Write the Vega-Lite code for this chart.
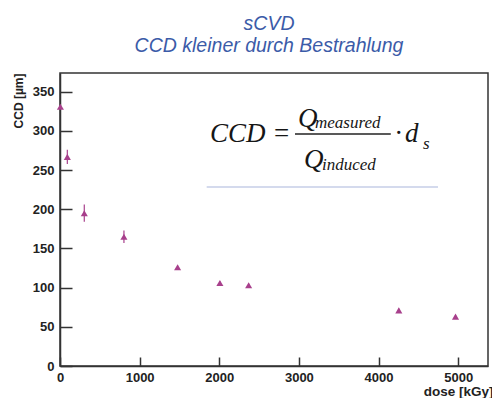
{
  "$schema": "https://vega.github.io/schema/vega-lite/v6.json",
  "width": 428,
  "height": 293,
  "autosize": {"type": "none"},
  "padding": {"left": 60, "top": 73, "right": 4, "bottom": 32},
  "background": "white",
  "title": {
    "text": ["sCVD", "CCD kleiner durch Bestrahlung"],
    "font": "Liberation Sans",
    "fontStyle": "italic",
    "fontWeight": "normal",
    "fontSize": 19.5,
    "color": "#3b5ba8",
    "lineHeight": 22.6,
    "anchor": "middle",
    "dx": -5,
    "dy": 23,
    "offset": 20,
    "baseline": "bottom"
  },
  "config": {
    "view": {"stroke": "#333333", "strokeWidth": 1.5}
  },
  "data": {"values": [
    {"dose": 5, "ccd": 331, "lo": 329, "hi": 333},
    {"dose": 92, "ccd": 267, "lo": 258, "hi": 276},
    {"dose": 305, "ccd": 195, "lo": 184, "hi": 206},
    {"dose": 803, "ccd": 165, "lo": 157, "hi": 173},
    {"dose": 1477, "ccd": 126, "lo": 124, "hi": 128},
    {"dose": 2008, "ccd": 106, "lo": 104, "hi": 108},
    {"dose": 2369, "ccd": 103, "lo": 101, "hi": 105},
    {"dose": 4255, "ccd": 71, "lo": 69, "hi": 73},
    {"dose": 4967, "ccd": 63, "lo": 61, "hi": 65}
  ]},
  "encoding": {
    "x": {"field": "dose", "type": "quantitative", "scale": {"domain": [0, 5375], "nice": false, "zero": false}, "axis": null},
    "y": {"field": "ccd", "type": "quantitative", "scale": {"domain": [0, 374], "nice": false, "zero": false}, "axis": null}
  },
  "resolve": {"axis": {"x": "independent", "y": "independent"}},
  "layer": [
    {
      "mark": {"type": "point", "shape": "triangle-up", "filled": true, "size": 50, "color": "#a8408c", "opacity": 1},
      "encoding": {
        "x": {"field": "dose", "type": "quantitative", "scale": {"domain": [0, 5375], "nice": false, "zero": false},
          "axis": {"orient": "bottom", "values": [0, 1000, 2000, 3000, 4000, 5000], "format": "d", "grid": false, "ticks": false, "labelPadding": 5, "labelFlush": false, "labelOverlap": false,
            "labelFont": "Liberation Sans", "labelFontWeight": "bold", "labelFontSize": 13, "labelColor": "#222222", "domainColor": "#333333", "domainWidth": 1.5,
            "title": "dose [kGy]", "titleFont": "Liberation Sans", "titleFontWeight": "bold", "titleColor": "#222222", "titleX": 433, "titleY": 29, "titleAlign": "right", "titleAnchor": null, "titleBaseline": "alphabetic", "titleFontSize": 13.5}},
        "y": {"field": "ccd", "type": "quantitative", "scale": {"domain": [0, 374], "nice": false, "zero": false},
          "axis": {"orient": "left", "values": [0, 50, 100, 150, 200, 250, 300, 350], "grid": false, "ticks": false, "labelPadding": 6, "labelFlush": false, "labelOverlap": false,
            "labelFont": "Liberation Sans", "labelFontWeight": "bold", "labelFontSize": 13, "labelColor": "#222222", "domainColor": "#333333", "domainWidth": 1.5,
            "title": "CCD [µm]", "titleFont": "Liberation Sans", "titleFontWeight": "bold", "titleColor": "#222222", "titleX": -38, "titleY": 0, "titleAlign": "right", "titleAngle": -90, "titleBaseline": "alphabetic", "titleFontSize": 12}}
      }
    },
    {
      "mark": {"type": "point", "opacity": 0},
      "encoding": {
        "x": {"field": "dose", "type": "quantitative", "scale": {"domain": [0, 5375], "nice": false, "zero": false},
          "axis": {"orient": "bottom", "values": [0, 1000, 2000, 3000, 4000, 5000], "tickSize": 9, "offset": -9, "tickColor": "#333333", "tickWidth": 1.5, "labels": false, "domain": false, "title": null}},
        "y": {"field": "ccd", "type": "quantitative", "scale": {"domain": [0, 374], "nice": false, "zero": false},
          "axis": {"orient": "left", "values": [0, 50, 100, 150, 200, 250, 300, 350], "tickSize": 12, "offset": -12, "tickColor": "#333333", "tickWidth": 1.5, "labels": false, "domain": false, "title": null, "gridOpacity": 0}}
      }
    },
    {
      "data": {"values": [{"dose": 1842, "dose2": 4747, "ccd": 228.5}]},
      "mark": {"type": "rule", "color": "#a9b6dc", "strokeWidth": 1.2},
      "encoding": {
        "x2": {"field": "dose2"}
      }
    },
    {
      "data": {"values": [{"dose": 2951, "dose2": 4154, "ccd": 296.1}]},
      "mark": {"type": "rule", "color": "#222222", "strokeWidth": 1.4},
      "encoding": {
        "x2": {"field": "dose2"}
      }
    },
    {
      "data": {"values": [
        {"dose": 1884, "ccd": 285.9, "t": "CCD ="},
        {"dose": 2989, "ccd": 305.1, "t": "Q"},
        {"dose": 3064, "ccd": 252.7, "t": "Q"},
        {"dose": 4207, "ccd": 285.9, "t": "·"},
        {"dose": 4333, "ccd": 285.9, "t": "d"}
      ]},
      "mark": {"type": "text", "font": "Liberation Serif", "fontStyle": "italic", "fontSize": 27, "align": "left", "baseline": "alphabetic", "color": "#161616"},
      "encoding": {
        "text": {"field": "t"}
      }
    },
    {
      "data": {"values": [
        {"dose": 3202, "ccd": 303.8, "t": "measured"},
        {"dose": 3290, "ccd": 250.2, "t": "induced"},
        {"dose": 4559, "ccd": 277, "t": "s"}
      ]},
      "mark": {"type": "text", "font": "Liberation Serif", "fontStyle": "italic", "fontSize": 17, "align": "left", "baseline": "alphabetic", "color": "#161616"},
      "encoding": {
        "text": {"field": "t"}
      }
    },
    {
      "mark": {"type": "rule", "color": "#a8408c", "strokeWidth": 1.2},
      "encoding": {
        "y": {"field": "lo", "type": "quantitative", "scale": {"domain": [0, 374], "nice": false, "zero": false}, "axis": null},
        "y2": {"field": "hi"}
      }
    }
  ]
}
